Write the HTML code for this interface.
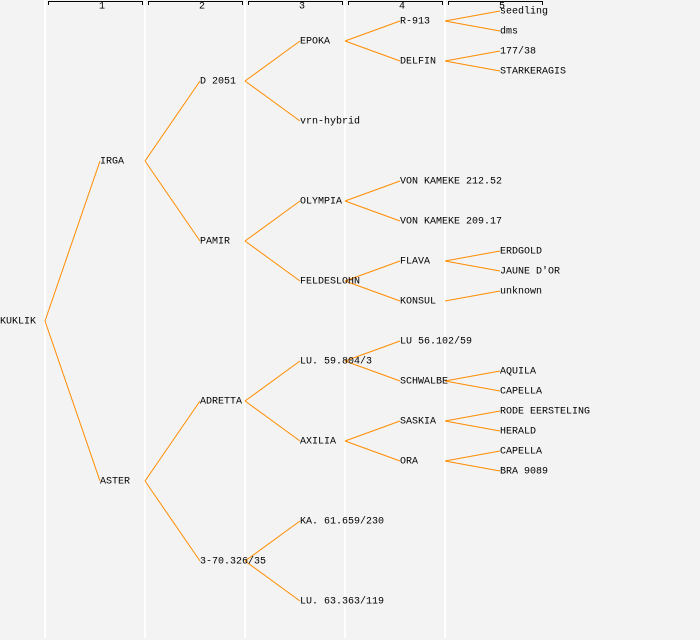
<!DOCTYPE html>
<html><head><meta charset="utf-8"><style>
html,body{margin:0;padding:0;background:#f3f3f3;}
svg{display:block}
text{font-family:"Liberation Mono","DejaVu Sans Mono",monospace;font-size:10px;fill:#000;dominant-baseline:central}
</style></head><body>
<svg width="700" height="640" xmlns="http://www.w3.org/2000/svg">
<rect width="700" height="640" fill="#f3f3f3"/>
<g stroke="#fff" stroke-width="2">
<line x1="45" y1="0" x2="45" y2="638"/><line x1="145" y1="0" x2="145" y2="638"/>
<line x1="245" y1="0" x2="245" y2="638"/><line x1="345" y1="0" x2="345" y2="638"/>
<line x1="445" y1="0" x2="445" y2="638"/>
</g>
<g stroke="#000" stroke-width="1" fill="none">
<path d="M48.5 5V1.5H142.5V5"/><path d="M148.5 5V1.5H242.5V5"/><path d="M248.5 5V1.5H342.5V5"/><path d="M348.5 5V1.5H442.5V5"/><path d="M448.5 5V1.5H542.5V5"/>
</g>
<g style="font-size:8px" text-anchor="middle">
<text x="102" y="7">1</text><text x="202" y="7">2</text><text x="302" y="7">3</text><text x="402" y="7">4</text><text x="502" y="7">5</text>
</g>
<g stroke="#ff8c00" stroke-width="1" fill="none">
<path d="M45 321L100 161M45 321L100 481"/>
<path d="M145 161L200 81M145 161L200 241M145 481L200 401M145 481L200 561"/>
<path d="M245 81L300 41M245 81L300 121M245 241L300 201M245 241L300 281M245 401L300 361M245 401L300 441M245 561L300 521M245 561L300 601"/>
<path d="M345 41L400 21M345 41L400 61M345 201L400 181M345 201L400 221M345 281L400 261M345 281L400 301M345 361L400 341M345 361L400 381M345 441L400 421M345 441L400 461"/>
<path d="M445 21L500 11M445 21L500 31M445 61L500 51M445 61L500 71M445 261L500 251M445 261L500 271M445 301L500 291M445 381L500 371M445 381L500 391M445 421L500 411M445 421L500 431M445 461L500 451M445 461L500 471"/>
</g>
<text x="0" y="322">KUKLIK</text>
<text x="100" y="162">IRGA</text><text x="100" y="482">ASTER</text>
<text x="200" y="82">D 2051</text><text x="200" y="242">PAMIR</text><text x="200" y="402">ADRETTA</text><text x="200" y="562">3-70.326/35</text>
<text x="300" y="42">EPOKA</text><text x="300" y="122">vrn-hybrid</text><text x="300" y="202">OLYMPIA</text><text x="300" y="282">FELDESLOHN</text><text x="300" y="362">LU. 59.804/3</text><text x="300" y="442">AXILIA</text><text x="300" y="522">KA. 61.659/230</text><text x="300" y="602">LU. 63.363/119</text>
<text x="400" y="22">R-913</text><text x="400" y="62">DELFIN</text><text x="400" y="182">VON KAMEKE 212.52</text><text x="400" y="222">VON KAMEKE 209.17</text><text x="400" y="262">FLAVA</text><text x="400" y="302">KONSUL</text><text x="400" y="342">LU 56.102/59</text><text x="400" y="382">SCHWALBE</text><text x="400" y="422">SASKIA</text><text x="400" y="462">ORA</text>
<text x="500" y="12">seedling</text><text x="500" y="32">dms</text><text x="500" y="52">177/38</text><text x="500" y="72">STARKERAGIS</text><text x="500" y="252">ERDGOLD</text><text x="500" y="272">JAUNE D'OR</text><text x="500" y="292">unknown</text><text x="500" y="372">AQUILA</text><text x="500" y="392">CAPELLA</text><text x="500" y="412">RODE EERSTELING</text><text x="500" y="432">HERALD</text><text x="500" y="452">CAPELLA</text><text x="500" y="472">BRA 9089</text>
</svg>
</body></html>
